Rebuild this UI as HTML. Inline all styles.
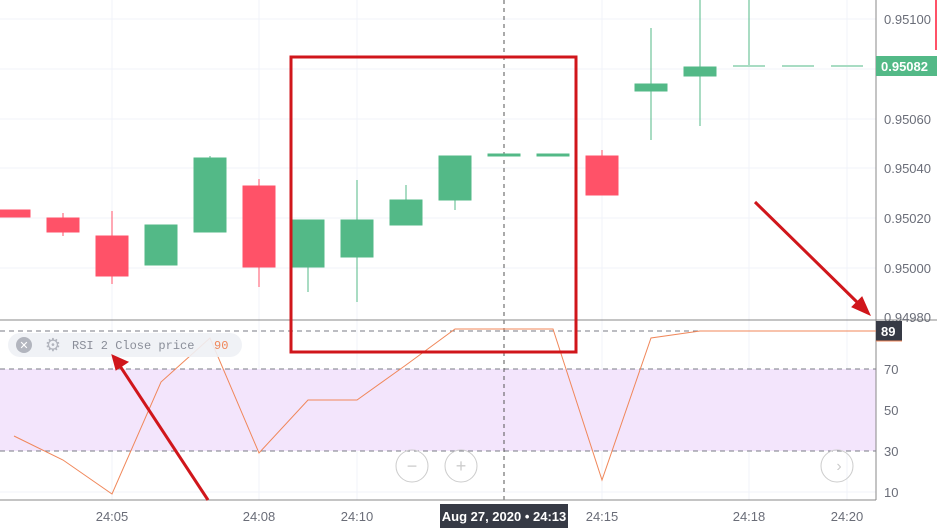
<!DOCTYPE html><html><head><style>body{margin:0;background:#fff}svg{display:block;font-family:"Liberation Sans",sans-serif}</style></head><body>
<svg width="937" height="532" viewBox="0 0 937 532">
<rect width="937" height="532" fill="#fff"/>
<g stroke="#f0f3fa" stroke-width="1">
<line x1="112" y1="0" x2="112" y2="500"/><line x1="259" y1="0" x2="259" y2="500"/><line x1="357" y1="0" x2="357" y2="500"/><line x1="602" y1="0" x2="602" y2="500"/><line x1="749" y1="0" x2="749" y2="500"/><line x1="847" y1="0" x2="847" y2="500"/>
<line x1="0" y1="19" x2="876" y2="19"/><line x1="0" y1="69" x2="876" y2="69"/><line x1="0" y1="119" x2="876" y2="119"/><line x1="0" y1="168" x2="876" y2="168"/><line x1="0" y1="218" x2="876" y2="218"/><line x1="0" y1="268" x2="876" y2="268"/>
<line x1="0" y1="410" x2="876" y2="410"/><line x1="0" y1="492" x2="876" y2="492"/>
</g>
<rect x="0" y="369" width="876" height="82" fill="#f3e5fc"/>
<g stroke="#787b86" stroke-dasharray="5,4" stroke-width="1"><line x1="0" y1="369" x2="876" y2="369"/><line x1="0" y1="451" x2="876" y2="451"/><line x1="0" y1="331" x2="876" y2="331"/></g>
<line x1="504" y1="0" x2="504" y2="500" stroke="#555" stroke-dasharray="4,4"/>
<line x1="0" y1="320" x2="937" y2="320" stroke="#888"/>
<line x1="876" y1="0" x2="876" y2="500" stroke="#888"/>
<line x1="0" y1="500" x2="876" y2="500" stroke="#888"/>
<!-- candles -->
<g stroke-width="1">
<g fill="#ff5268" stroke="#ff5268"><rect x="-2" y="210" width="32" height="7"/>
<line x1="63" y1="213" x2="63" y2="236"/><rect x="47" y="218" width="32" height="14"/>
<line x1="112" y1="211" x2="112" y2="284"/><rect x="96" y="236" width="32" height="40"/>
<line x1="259" y1="179" x2="259" y2="287"/><rect x="243" y="186" width="32" height="81"/>
<line x1="602" y1="150" x2="602" y2="195"/><rect x="586" y="156" width="32" height="39"/></g>
<g fill="#53b987" stroke="#53b987">
<rect x="145" y="225" width="32" height="40"/>
<line x1="210" y1="156" x2="210" y2="232"/><rect x="194" y="158" width="32" height="74"/>
<line x1="308" y1="220" x2="308" y2="292"/><rect x="292" y="220" width="32" height="47"/>
<line x1="357" y1="180" x2="357" y2="302"/><rect x="341" y="220" width="32" height="37"/>
<line x1="406" y1="185" x2="406" y2="225"/><rect x="390" y="200" width="32" height="25"/>
<line x1="455" y1="156" x2="455" y2="210"/><rect x="439" y="156" width="32" height="44"/>
<rect x="488" y="154" width="32" height="2"/><rect x="537" y="154" width="32" height="2"/>
<line x1="651" y1="28" x2="651" y2="140"/><rect x="635" y="84" width="32" height="7"/>
<line x1="700" y1="0" x2="700" y2="126"/><rect x="684" y="67" width="32" height="9"/>
<line x1="749" y1="0" x2="749" y2="66"/>
</g>
<g stroke="#a8dcc3" stroke-width="2"><line x1="733" y1="66" x2="765" y2="66"/><line x1="782" y1="66" x2="814" y2="66"/><line x1="831" y1="66" x2="863" y2="66"/></g>
</g>
<polyline fill="none" stroke="#f0875a" stroke-width="1" points="14,436 63,460 112,494 161,382 210,338 259,453 308,400 357,400 406,365 455,329 504,329 553,329 602,480 651,338 700,331 749,331 798,331 847,331 876,331"/>
<!-- legend -->
<rect x="8" y="333" width="234" height="24" rx="12" fill="#eef1f5" opacity="0.9"/>
<circle cx="24" cy="345" r="8" fill="#b2b5be"/><text x="24" y="349" font-size="11" fill="#fff" text-anchor="middle">✕</text>
<text x="53" y="351" font-size="18" fill="#b2b5be" text-anchor="middle">⚙</text>
<text x="72" y="349" font-family="Liberation Mono,monospace" font-size="12" fill="#8a8e99">RSI 2 Close price</text>
<text x="214" y="349" font-family="Liberation Mono,monospace" font-size="12" fill="#f0875a">90</text>
<!-- nav buttons -->
<g fill="none" stroke="#ccc"><circle cx="412" cy="466" r="16"/><circle cx="461" cy="466" r="16"/><circle cx="837" cy="466" r="16"/></g>
<text x="412" y="472" font-size="18" fill="#ccc" text-anchor="middle">−</text><text x="461" y="472" font-size="18" fill="#ccc" text-anchor="middle">+</text><text x="839" y="471" font-size="16" fill="#ccc" text-anchor="middle">›</text>
<!-- price axis -->
<g font-size="13" fill="#6a6d78">
<text x="884" y="24">0.95100</text><text x="884" y="124">0.95060</text><text x="884" y="173">0.95040</text><text x="884" y="223">0.95020</text><text x="884" y="273">0.95000</text><text x="884" y="322">0.94980</text>
<text x="884" y="374">70</text><text x="884" y="415">50</text><text x="884" y="456">30</text><text x="884" y="497">10</text>
</g>
<rect x="876" y="56" width="61" height="20" fill="#53b987"/><text x="881" y="71" font-size="13" font-weight="bold" fill="#fff">0.95082</text>
<rect x="876" y="321" width="26" height="20" fill="#363a45"/><text x="881" y="336" font-size="13" font-weight="bold" fill="#fff">89</text>
<line x1="876" y1="341" x2="902" y2="341" stroke="#f0875a"/>
<!-- time axis -->
<g font-size="13" fill="#6a6d78" text-anchor="middle">
<text x="112" y="521">24:05</text><text x="259" y="521">24:08</text><text x="357" y="521">24:10</text><text x="602" y="521">24:15</text><text x="749" y="521">24:18</text><text x="847" y="521">24:20</text></g>
<rect x="440" y="504" width="128" height="24" fill="#363a45"/><text x="504" y="521" font-size="13" font-weight="bold" fill="#fff" text-anchor="middle">Aug 27, 2020 • 24:13</text>
<!-- annotations -->
<rect x="291" y="57" width="285" height="295" fill="none" stroke="#d0161b" stroke-width="3"/>
<g stroke="#d0161b" stroke-width="3" fill="#d0161b">
<line x1="755" y1="202" x2="860" y2="305"/><polygon points="870,315 852,307 862,297" stroke-width="1"/>
<line x1="208" y1="500" x2="120" y2="366"/><polygon points="112,355 128,362 116,370" stroke-width="1"/>
</g>
<line x1="936" y1="0" x2="936" y2="50" stroke="#ff5268" stroke-width="2"/>
</svg></body></html>
